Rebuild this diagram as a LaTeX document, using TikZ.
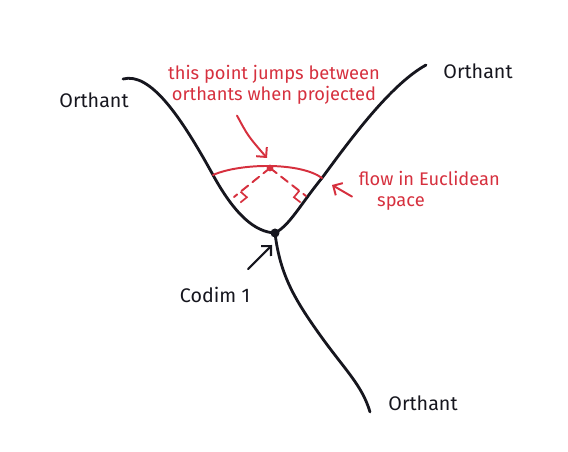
\documentclass[tikz,border=0pt]{standalone}
\usepackage{fontspec}
\setmainfont{Fira Sans}
\usepackage{xcolor}
\usetikzlibrary{
	arrows.meta,
	positioning,
	calc,
	angles
}
\definecolor{redink}{RGB}{214,48,62}
\definecolor{blackink}{RGB}{22,22,30}

\begin{document}
\begin{tikzpicture}[x=0.025cm, y=-0.025cm,
		ink/.style={line width=2pt, draw=blackink, line cap=round},
		redline/.style={line width=1.4pt, draw=redink, line cap=round},
		blacktext/.style={text=blackink, font=\fontsize{14}{16}\selectfont},
		redtext/.style={text=redink, font=\fontsize{13}{15}\selectfont}]
		
		\useasboundingbox (0,0) rectangle (568,452);
		
		% Points on the curves
		\coordinate (jn) at (275,233);
		\coordinate (dot) at (270,168);
		\coordinate (fl) at (234,197);
		\coordinate (fr) at (306,196);
		
		% Codim 1 stratum and the three orthants
		\draw[ink]
		(123,79)
		.. controls (150,72) and (180,115) ..
		(213,175)
		.. controls (235,215) and (255,232) ..
		(jn)
		.. controls (290,225) and (300,205) ..
		(322,178)
		.. controls (350,140) and (390,85) ..
		(426,65);
		\draw[ink]
		(jn)
		.. controls (280,275) and (295,300) ..
		(320,335)
		.. controls (345,370) and (362,385) ..
		(370,412);
		\fill[blackink] (jn) circle (3.2pt);
		
		% Euclidean flow and the projections
		\draw[redline]
		(213,175)
		.. controls (240,163) and (300,162) ..
		(322,178);
		\draw[redline, dashed, dash pattern=on 6pt off 4pt] (dot) -- (fl);
		\draw[redline, dashed, dash pattern=on 6pt off 4pt] (dot) -- (fr);
		\pic[draw=redink, line width=1.2pt, angle radius=6pt] {right angle=dot--fl--jn};
		\pic[draw=redink, line width=1.2pt, angle radius=6pt] {right angle=jn--fr--dot};
		\fill[redink] (dot) circle (2.4pt);
		
		% Labels
		\node[blacktext] (orthl) at (94,100) {Orthant};
		\node[blacktext] (orthr) at (478,71) {Orthant};
		\node[blacktext] (orthb) at (423,403) {Orthant};
		\node[blacktext] (codim) at (215,295) {Codim 1};
		
		\node[redtext, align=center] (jump) at (274,85)
		{this point jumps between\\orthants when projected};
		\node[redtext, align=left, anchor=north west] (flow) at (354,166)
		{flow in Euclidean\\\hspace{1em}space};
		
		% Arrows
		\draw[redline, -{Straight Barb[length=5pt]}]
		(jump.south) ++(-37,6) .. controls (248,136) .. ($(dot)+(-3,-10)$);
		\draw[redline, -{Straight Barb[length=5pt]}]
		(flow.west) ++(-2,6) -- (332,185);
		\draw[ink, line width=1.5pt, -{Straight Barb[length=5pt]}]
		(codim.north) ++(33,-13) -- ($(jn)+(-3,12)$);
		
	\end{tikzpicture}
\end{document}
